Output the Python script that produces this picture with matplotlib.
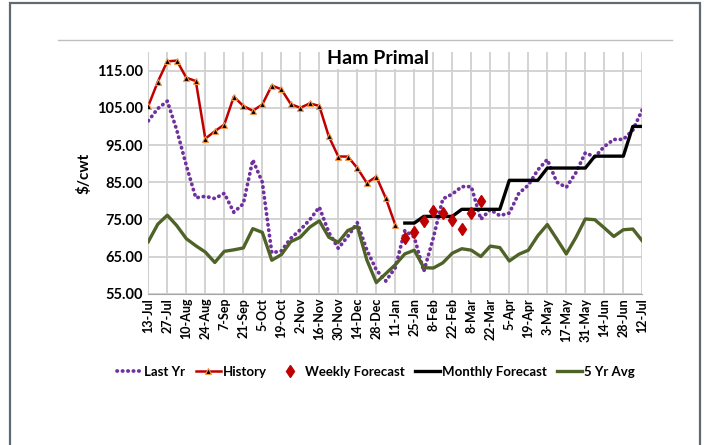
import numpy as np
import matplotlib
matplotlib.use("Agg")
import matplotlib.pyplot as plt
from matplotlib.lines import Line2D
from matplotlib.patches import Rectangle

plt.rcParams['font.family'] = ['Lato', 'DejaVu Sans']

# week labels (every second week is labelled)
tick_labels = ['13-Jul', '27-Jul', '10-Aug', '24-Aug', '7-Sep', '21-Sep', '5-Oct',
               '19-Oct', '2-Nov', '16-Nov', '30-Nov', '14-Dec', '28-Dec', '11-Jan',
               '25-Jan', '8-Feb', '22-Feb', '8-Mar', '22-Mar', '5-Apr', '19-Apr',
               '3-May', '17-May', '31-May', '14-Jun', '28-Jun', '12-Jul']
n_weeks = 53
weeks = np.arange(n_weeks)

last_yr = [101.5, 104.8, 106.8, 99.0, 89.5, 80.8, 81.2, 80.6, 82.0, 76.9,
           79.2, 91.0, 85.0, 66.0, 66.5, 69.9, 72.2, 74.9, 78.3, 71.5,
           67.2, 70.4, 74.1, 66.8, 61.4, 58.4, 62.0, 72.0, 70.2, 61.0,
           70.0, 80.5, 81.8, 83.8, 83.8, 75.0, 77.6, 76.0, 76.7, 82.0,
           84.2, 88.3, 91.1, 85.0, 83.6, 87.5, 92.9, 91.8, 94.6, 96.5,
           96.5, 99.0, 104.5]

history = [105.5, 112.0, 117.5, 117.7, 113.1, 112.2, 96.7, 98.7, 100.5, 108.0,
           105.5, 104.2, 105.9, 111.0, 110.0, 106.0, 105.0, 106.2, 105.5, 97.3,
           91.9, 91.9, 88.8, 84.8, 86.5, 80.7, 73.5]

weekly_start = 27
weekly_fc = [69.9, 71.5, 74.5, 77.3, 76.6, 74.8, 72.5, 76.6, 80.0]

monthly_start = 27
monthly_fc = [74.0, 74.0, 75.8, 75.8, 75.8, 75.8, 77.7, 77.7, 77.7, 77.7,
              77.7, 85.5, 85.5, 85.5, 85.5, 88.8, 88.8, 88.8, 88.8, 88.8,
              92.0, 92.0, 92.0, 92.0, 100.0, 100.0]

avg_5yr = [69.0, 73.7, 76.1, 73.3, 69.8, 67.9, 66.2, 63.4, 66.4, 66.8,
           67.3, 72.5, 71.5, 64.0, 65.5, 69.0, 70.2, 72.9, 74.6, 70.2,
           68.8, 72.0, 73.1, 64.1, 58.0, 60.4, 62.8, 65.7, 66.7, 62.0,
           61.9, 63.3, 65.9, 67.1, 66.7, 65.0, 67.8, 67.4, 63.8, 65.6,
           66.7, 70.6, 73.6, 69.7, 65.7, 70.1, 75.1, 74.9, 72.7, 70.4,
           72.2, 72.4, 69.2]

fig = plt.figure(figsize=(7.14, 4.45), dpi=100)
ax = fig.add_axes([0.2077, 0.340, 0.6919, 0.543])

purple = '#7030A0'
red = '#C00000'
green = '#4F6228'
dots = (0, (0.1, 1.35))

ax.plot(weeks, last_yr, color=purple, lw=2.7, linestyle=dots,
        dash_capstyle='round', zorder=3)
ax.plot(weeks[:len(history)], history, color=red, lw=1.8, marker='^',
        markersize=4.5, markerfacecolor='black', markeredgecolor='#F79646',
        markeredgewidth=0.8, zorder=4)
ax.plot(weeks[weekly_start:weekly_start + len(weekly_fc)], weekly_fc,
        linestyle='none', marker='d', markersize=6.5, color=red, zorder=5)
ax.plot(weeks[monthly_start:monthly_start + len(monthly_fc)], monthly_fc,
        color='black', lw=2.4, zorder=4)
ax.plot(weeks, avg_5yr, color=green, lw=2.4, zorder=3)

ax.set_xlim(0, n_weeks - 1)
ax.set_ylim(55, 120)
ax.set_yticks(np.arange(55, 116, 10))
ax.set_yticklabels(['%.2f' % v for v in np.arange(55, 116, 10)],
                   fontsize=10.5, fontweight='bold')
ax.set_xticks(weeks[::2])
ax.set_xticklabels(tick_labels, rotation=90, fontsize=9, fontweight='bold')
ax.tick_params(axis='both', length=0, pad=4)
ax.tick_params(axis='x', pad=3)
ax.grid(True, color='#D0D0D0', lw=1.3)
ax.set_axisbelow(True)
for s in ['top', 'right']:
    ax.spines[s].set_visible(False)
ax.spines['left'].set_color('#D0D0D0')
ax.spines['bottom'].set_color('#A6A6A6')
ax.set_ylabel('$/cwt', fontsize=11, fontweight='bold', labelpad=4)

ax.text(0.465, 0.975, 'Ham Primal', transform=ax.transAxes, ha='center',
        va='center', fontsize=14, fontweight='bold',
        bbox=dict(facecolor='white', edgecolor='none', pad=1.5), zorder=6)

handles = [
    Line2D([], [], color=purple, lw=2.7, linestyle=dots,
           dash_capstyle='round'),
    Line2D([], [], color=red, lw=1.8, marker='^', markersize=4.5,
           markerfacecolor='black', markeredgecolor='#F79646',
           markeredgewidth=0.8),
    Line2D([], [], color=red, linestyle='none', marker='d', markersize=6.5),
    Line2D([], [], color='black', lw=2.4),
    Line2D([], [], color=green, lw=2.4),
]
labels = ['Last Yr', 'History', 'Weekly Forecast', 'Monthly Forecast', '5 Yr Avg']
fig.legend(handles, labels, loc='center', bbox_to_anchor=(0.527, 0.164),
           ncol=5, frameon=False, handlelength=1.9, handletextpad=0.15,
           columnspacing=0.8, prop=dict(size=9.5, weight='bold'))

# chart frame and separator
fig.add_artist(Rectangle((0.014, -0.05), 0.967, 1.043, transform=fig.transFigure,
                         fill=False, edgecolor='#5F6A72', lw=1.6))
fig.add_artist(Line2D([0.081, 0.941], [0.910, 0.910], transform=fig.transFigure,
                      color='#BFBFBF', lw=1.0))

fig.savefig('out.png', dpi=100)
